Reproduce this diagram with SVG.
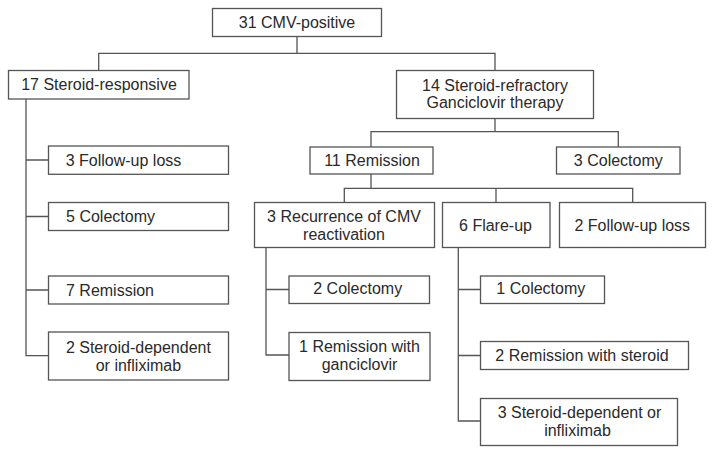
<svg xmlns="http://www.w3.org/2000/svg" width="715" height="455" viewBox="0 0 715 455">
<style>
.b{fill:#fff;stroke:#555;stroke-width:1.3}
.c{fill:none;stroke:#555;stroke-width:1.3}
text{font-family:"Liberation Sans",Arial,sans-serif;font-size:16px;fill:#2a2a2a;text-anchor:middle}
</style>
<rect width="715" height="455" fill="#fff"/>
<g id="connectors" class="c">
<path d="M297 36.7V53.3M98.7 70.5V53.3H495V70.5"/>
<path d="M26 99V355.7H48.5M26 160H48.5M26 216.5H48.5M26 290H48.5"/>
<path d="M495 118.5V131.7M371 147V131.7H618.3V147"/>
<path d="M371 174V188.3M344.3 202.5V188.3H632.7V202.5M496 188.3V202.5"/>
<path d="M266 247.5V355H289M266 289.5H289"/>
<path d="M458.3 247.5V421H480.5M458.3 289.5H480.5M458.3 355.5H480.5"/>
</g>
<g id="n1"><rect class="b" x="212.5" y="8.5" width="169" height="28"/><text x="297" y="27.8">31 CMV-positive</text></g>
<g id="n2"><rect class="b" x="8.5" y="70.5" width="180.5" height="28.5"/><text x="99" y="89.6">17 Steroid-responsive</text></g>
<g id="n3"><rect class="b" x="396.5" y="70.5" width="197" height="48"/><text x="495" y="90.7">14 Steroid-refractory</text><text x="495" y="108.3">Ganciclovir therapy</text></g>
<g id="n4"><rect class="b" x="310" y="147" width="123" height="27"/><text x="372" y="166.3">11 Remission</text></g>
<g id="n5"><rect class="b" x="556.5" y="147" width="123.5" height="27"/><text x="618.3" y="166.3">3 Colectomy</text></g>
<g id="n6"><rect class="b" x="48.5" y="146" width="180" height="28.3"/><text x="123.5" y="165.6">3 Follow-up loss</text></g>
<g id="n7"><rect class="b" x="48.5" y="202.5" width="180" height="28"/><text x="110.5" y="221.6">5 Colectomy</text></g>
<g id="n8"><rect class="b" x="48.5" y="276" width="180" height="28"/><text x="110" y="295.5">7 Remission</text></g>
<g id="n9"><rect class="b" x="48.5" y="332" width="180" height="48"/><text x="138.4" y="353.3">2 Steroid-dependent</text><text x="138.4" y="370.7">or infliximab</text></g>
<g id="n10"><rect class="b" x="254.5" y="202.5" width="180" height="45"/><text x="344" y="222.3">3 Recurrence of CMV</text><text x="344" y="240">reactivation</text></g>
<g id="n11"><rect class="b" x="442.5" y="202.5" width="107.5" height="45"/><text x="495.5" y="230.7">6 Flare-up</text></g>
<g id="n12"><rect class="b" x="559.5" y="202.5" width="146" height="45"/><text x="632.3" y="230.7">2 Follow-up loss</text></g>
<g id="n13"><rect class="b" x="289" y="276" width="140.5" height="27.5"/><text x="357.7" y="294.3">2 Colectomy</text></g>
<g id="n14"><rect class="b" x="289" y="332.5" width="141" height="48"/><text x="359.5" y="352.3">1 Remission with</text><text x="359.5" y="369.7">ganciclovir</text></g>
<g id="n15"><rect class="b" x="480.5" y="276" width="124" height="27.5"/><text x="540.8" y="294.3">1 Colectomy</text></g>
<g id="n16"><rect class="b" x="480.5" y="341.5" width="208" height="28"/><text x="582" y="360.7">2 Remission with steroid</text></g>
<g id="n17"><rect class="b" x="480.5" y="398.5" width="197" height="47"/><text x="579.5" y="418.3">3 Steroid-dependent or</text><text x="577.5" y="435.7">infliximab</text></g>
</svg>
